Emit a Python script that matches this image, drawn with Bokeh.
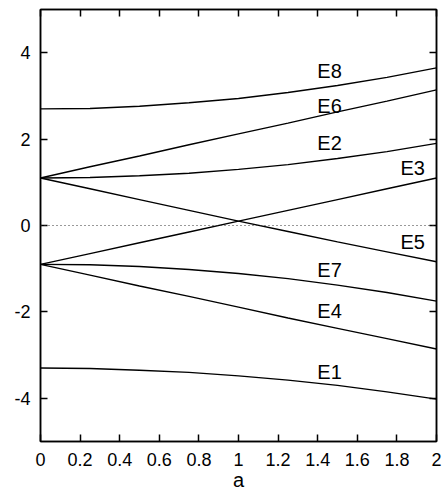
from bokeh.plotting import figure
from bokeh.models import Span, LinearAxis, FixedTicker, Range1d, ColumnDataSource
from bokeh.embed import file_html
from bokeh.resources import INLINE
from bokeh.core.properties import value

a = [0, 0.25, 0.5, 0.75, 1.0, 1.25, 1.5, 1.75, 2.0]
E8 = [2.70, 2.71, 2.76, 2.84, 2.94, 3.08, 3.24, 3.43, 3.65]
E6 = [1.10, 1.36, 1.61, 1.87, 2.12, 2.37, 2.63, 2.88, 3.14]
E2 = [1.10, 1.11, 1.15, 1.21, 1.30, 1.41, 1.55, 1.71, 1.90]
E3 = [-0.90, -0.65, -0.40, -0.15, 0.10, 0.35, 0.60, 0.85, 1.10]
E5 = [1.10, 0.85, 0.60, 0.35, 0.10, -0.14, -0.38, -0.61, -0.84]
E7 = [-0.90, -0.91, -0.95, -1.02, -1.11, -1.23, -1.38, -1.55, -1.75]
E4 = [-0.90, -1.15, -1.40, -1.64, -1.89, -2.14, -2.38, -2.62, -2.86]
E1 = [-3.30, -3.31, -3.35, -3.40, -3.48, -3.58, -3.70, -3.85, -4.02]

label_names = ["E8", "E6", "E2", "E3", "E5", "E7", "E4", "E1"]
label_x = [1.46, 1.46, 1.46, 1.88, 1.88, 1.46, 1.46, 1.46]
label_y = [3.58, 2.77, 1.91, 1.33, -0.39, -1.03, -1.98, -3.40]

x_ticks = [0, 0.2, 0.4, 0.6, 0.8, 1.0, 1.2, 1.4, 1.6, 1.8, 2.0]
x_tick_labels = ["0", "0.2", "0.4", "0.6", "0.8", "1", "1.2", "1.4", "1.6", "1.8", "2"]
y_ticks = [-4, -2, 0, 2, 4]
y_tick_labels = ["-4", "-2", "0", "2", "4"]

FONT = "Liberation Sans"

p = figure(width=443, height=493, output_backend="svg", toolbar_location=None,
           x_range=Range1d(0, 2), y_range=Range1d(-5, 5),
           min_border_left=40, min_border_right=7, min_border_top=9, min_border_bottom=51,
           x_axis_label="a")
p.xgrid.visible = False
p.ygrid.visible = False
p.outline_line_color = "black"
p.outline_line_width = 1.5
p.background_fill_color = "white"
p.border_fill_color = "white"

def style_axis(ax, labels=True):
    ax.axis_line_color = "black"
    ax.axis_line_width = 1.5
    ax.major_tick_in = 7
    ax.major_tick_out = 0
    ax.minor_tick_line_color = None
    ax.major_tick_line_color = "black"
    ax.major_tick_line_width = 1.5
    ax.major_label_text_font = FONT
    ax.major_label_text_font_size = "18px"
    ax.major_label_text_color = "black"
    if not labels:
        ax.major_label_text_font_size = "0px"
        ax.major_label_text_color = None

xa = p.xaxis[0]
xa.ticker = FixedTicker(ticks=x_ticks)
xa.major_label_overrides = {t: l for t, l in zip(x_ticks, x_tick_labels)}
style_axis(xa)
xa.major_label_standoff = 11
xa.axis_label_text_font = FONT
xa.axis_label_text_font_size = "20px"
xa.axis_label_text_font_style = "normal"
xa.axis_label_text_color = "black"
xa.axis_label_standoff = 0

ya = p.yaxis[0]
ya.ticker = FixedTicker(ticks=y_ticks)
ya.major_label_overrides = {t: l for t, l in zip(y_ticks, y_tick_labels)}
style_axis(ya)
ya.major_label_standoff = 10

top = LinearAxis(ticker=FixedTicker(ticks=x_ticks))
style_axis(top, labels=False)
p.add_layout(top, "above")
right = LinearAxis(ticker=FixedTicker(ticks=y_ticks))
style_axis(right, labels=False)
p.add_layout(right, "right")

p.add_layout(Span(location=0, dimension="width", line_color="#333333",
                  line_width=1, line_dash="1 3"))

for series in [E8, E6, E2, E3, E5, E7, E4, E1]:
    p.line(a, series, line_color="black", line_width=1.4)

src = ColumnDataSource(dict(x=label_x, y=label_y, t=label_names))
p.text(x="x", y="y", text="t", source=src, text_font=value(FONT),
       text_font_size="20px", text_align="center", text_baseline="middle",
       text_color="black")

open("out.html", "w").write(file_html(p, INLINE))
